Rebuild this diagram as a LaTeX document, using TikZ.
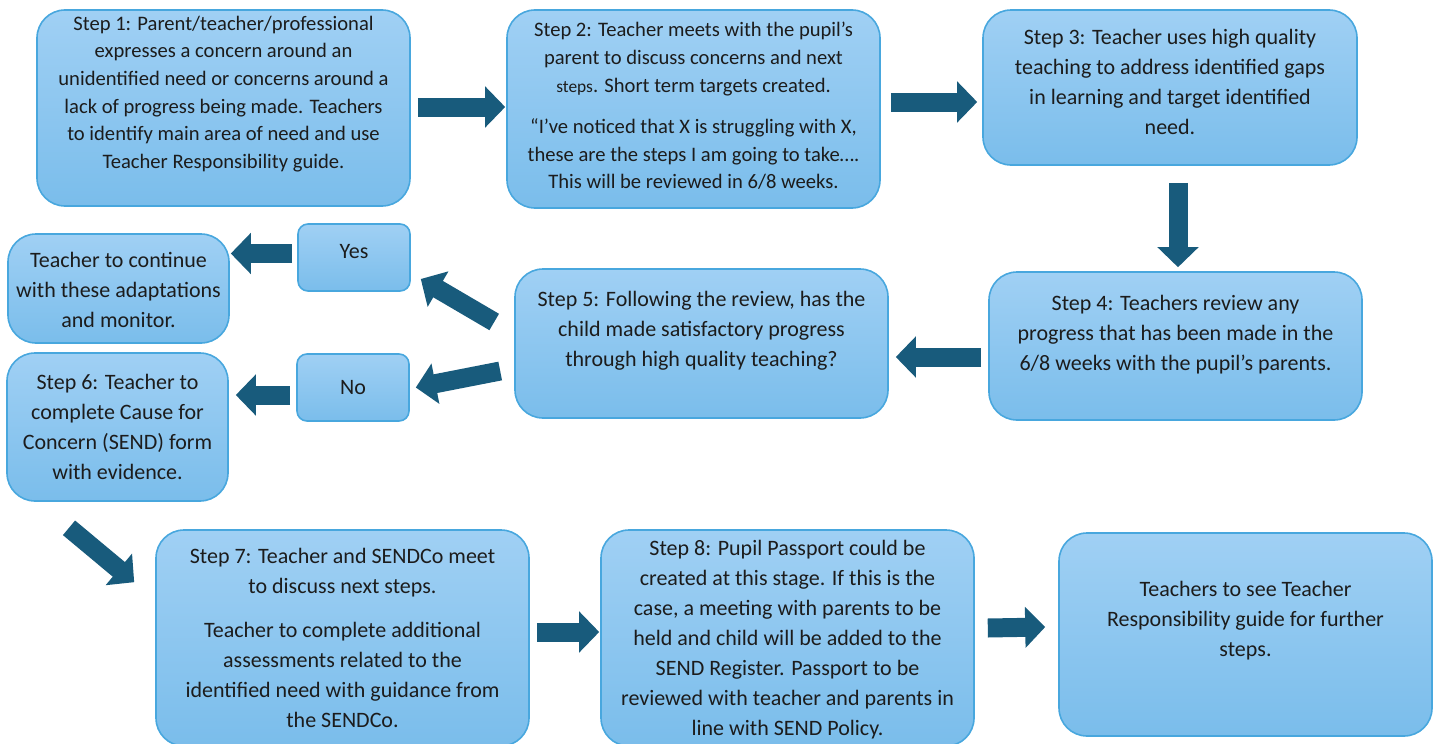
\documentclass[tikz,border=0pt]{standalone}
\usepackage{fontspec}
\setmainfont{Carlito}
\usetikzlibrary{arrows.meta,positioning}

\definecolor{boxtop}{RGB}{160,208,244}
\definecolor{boxbot}{RGB}{122,189,235}
\definecolor{boxline}{RGB}{72,167,222}
\definecolor{arrowblue}{RGB}{24,91,124}
\definecolor{inkgrey}{RGB}{28,28,28}

\tikzset{
  stepbox/.style 2 args={draw=boxline, line width=0.8pt, rounded corners=14pt,
    top color=boxtop, bottom color=boxbot, inner sep=0pt,
    minimum width=#1*0.5pt, minimum height=#2*0.5pt},
  answerbox/.style={stepbox={112}{67}, rounded corners=5pt},
  steptext/.style={align=center, text=inkgrey, inner sep=0pt,
    font=\fontsize{11}{15}\selectfont},
  densetext/.style={steptext, font=\fontsize{10.3}{13.8}\selectfont},
  blockarr/.style={draw=arrowblue, line width=9.5pt,
    -{Triangle[width=20pt,length=10pt]}}
}

\begin{document}
\begin{tikzpicture}[x=0.5pt, y=-0.5pt]
  \useasboundingbox (0,0) rectangle (1440,744);

  % boxes
  \node[stepbox={373}{196}] (s1) at (223.5,108) {};
  \node[stepbox={373}{198}] (s2) at (693.5,109) {};
  \node[stepbox={374}{155}] (s3) at (1170,87.5) {};
  \node[stepbox={373}{148}] (s4) at (1175.5,346) {};
  \node[stepbox={373}{149}] (s5) at (701.5,343.5) {};
  \node[answerbox] (yes) at (354,257.5) {};
  \node[answerbox] (no)  at (353,387.5) {};
  \node[stepbox={221}{109}] (cont) at (118.5,288.5) {};
  \node[stepbox={221}{148}] (s6) at (117.5,427) {};
  \node[stepbox={373}{216}] (s7) at (342.5,638) {};
  \node[stepbox={373}{216}] (s8) at (787.5,638) {};
  \node[stepbox={373}{203}] (fin) at (1245.5,634.5) {};

  % texts
  \node[densetext] (s1t) at ([yshift=7pt]s1) {Step 1: Parent/teacher/professional\\
    expresses a concern around an\\ unidentified need or concerns around a\\
    lack of progress being made. Teachers\\ to identify main area of need and use\\
    Teacher Responsibility guide.};
  \node[densetext] (s2t) at ([yshift=1.5pt]s2) {Step 2: Teacher meets with the pupil’s\\
    parent to discuss concerns and next\\
    {\fontsize{8.7}{13.8}\selectfont steps}. Short term targets created.\\[7pt]
    “I’ve noticed that X is struggling with X,\\
    these are the steps I am going to take….\\ This will be reviewed in 6/8 weeks.};
  \node[steptext] (s3t) at ([yshift=2.75pt]s3) {Step 3: Teacher uses high quality\\
    teaching to address identified gaps\\ in learning and target identified\\ need.};
  \node[steptext] (s4t) at ([yshift=5.5pt]s4) {Step 4: Teachers review any\\
    progress that has been made in the\\ 6/8 weeks with the pupil’s parents.};
  \node[steptext] (s5t) at ([yshift=6.25pt]s5) {Step 5: Following the review, has the\\
    child made satisfactory progress\\ through high quality teaching?};
  \node[steptext] (yest) at ([yshift=2.75pt]yes) {Yes};
  \node[steptext] (not) at (no) {No};
  \node[steptext] (contt) at ([yshift=-0.75pt]cont) {Teacher to continue\\
    with these adaptations\\ and monitor.};
  \node[steptext] (s6t) at (s6) {Step 6: Teacher to\\ complete Cause for\\
    Concern (SEND) form\\ with evidence.};
  \node[steptext] (s7t) at (s7) {Step 7: Teacher and SENDCo meet\\
    to discuss next steps.\\[7pt] Teacher to complete additional\\
    assessments related to the\\ identified need with guidance from\\ the SENDCo.};
  \node[steptext] (s8t) at ([yshift=-1pt]s8) {Step 8: Pupil Passport could be\\
    created at this stage. If this is the\\ case, a meeting with parents to be\\
    held and child will be added to the\\ SEND Register. Passport to be\\
    reviewed with teacher and parents in\\ line with SEND Policy.};
  \node[steptext] (fint) at ([yshift=6.75pt]fin) {Teachers to see Teacher\\
    Responsibility guide for further\\ steps.};

  % arrows
  \draw[blockarr] ([xshift=3.5pt,yshift=0.5pt]s1.east) -- ([xshift=-0.5pt,yshift=1pt]s2.west);
  \draw[blockarr] ([xshift=5pt,yshift=3.5pt]s2.east) -- ([xshift=-2.5pt,yshift=-7.25pt]s3.west);
  \draw[blockarr] ([xshift=4pt,yshift=-8.5pt]s3.south) -- ([xshift=1.25pt,yshift=2pt]s4.north);
  \draw[blockarr] ([xshift=-3.5pt,yshift=-5.5pt]s4.west) -- ([xshift=3.5pt,yshift=-6.75pt]s5.east);
  \draw[blockarr] ([xshift=-10pt,yshift=10.75pt]s5.west) -- ([xshift=5pt,yshift=-10.75pt]yes.east);
  \draw[blockarr] ([xshift=-7pt,yshift=-13.75pt]s5.west) -- ([xshift=3pt,yshift=0pt]no.east);
  \draw[blockarr] ([xshift=-2.5pt,yshift=2pt]yes.west) -- ([xshift=0.5pt,yshift=17.5pt]cont.east);
  \draw[blockarr] ([xshift=-3pt,yshift=-3.75pt]no.west) -- ([xshift=3.5pt,yshift=16pt]s6.east);
  \draw[blockarr] ([xshift=-24.25pt,yshift=-13pt]s6.south) -- ([xshift=-10.5pt,yshift=-26.5pt]s7.north west);
  \draw[blockarr] ([xshift=3.5pt,yshift=3pt]s7.east) -- ([xshift=-0.5pt,yshift=3pt]s8.west);
  \draw[blockarr] ([xshift=6.5pt,yshift=5pt]s8.east) -- ([xshift=-6.5pt,yshift=3.75pt]fin.west);
\end{tikzpicture}
\end{document}
